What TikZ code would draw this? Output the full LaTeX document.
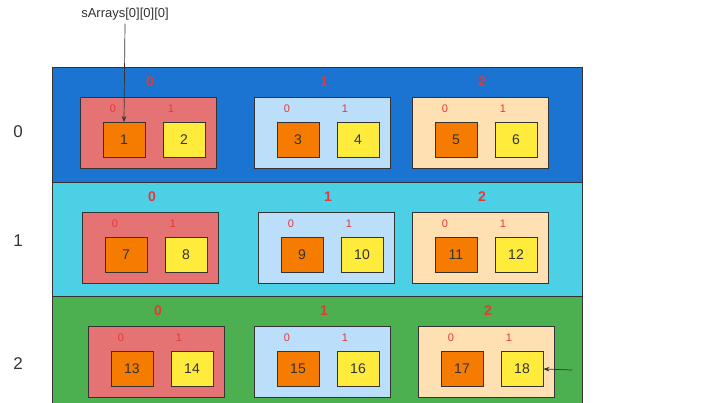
\documentclass[tikz,border=0pt]{standalone}
\usepackage{fontspec}
\setmainfont{Liberation Sans}
\usetikzlibrary{positioning,arrows.meta}
\definecolor{rowa}{HTML}{1B74D2}
\definecolor{rowb}{HTML}{4BD0E5}
\definecolor{rowc}{HTML}{4CAF50}
\definecolor{boxa}{HTML}{E57373}
\definecolor{boxb}{HTML}{BBDEFB}
\definecolor{boxc}{HTML}{FFE0B2}
\definecolor{cella}{HTML}{F57C00}
\definecolor{cellb}{HTML}{FFEB3B}
\definecolor{idx}{HTML}{E53935}
\begin{document}
\begin{tikzpicture}[x=1pt, y=-1pt, >={Stealth[length=6pt]},
	rowbox/.style={draw=black!80, line width=1pt},
	arrbox/.style={draw=black!80, line width=0.8pt},
	cellbox/.style={draw=black!80, line width=0.8pt, minimum width=42pt, minimum height=35pt, inner sep=0pt, text=black!80, font=\fontsize{14}{16}\selectfont},
	idxlab/.style={text=idx, font=\bfseries\fontsize{14}{16}\selectfont},
	smalllab/.style={text=idx, font=\fontsize{11}{13}\selectfont},
	rowlab/.style={font=\fontsize{17}{19}\selectfont, text=black!80}]
	\useasboundingbox (0,0) rectangle (725,403);
	% rows
	\fill[rowa] (52,68) rectangle (582,183);
	\fill[rowb] (52,183) rectangle (582,296);
	\fill[rowc] (52,296) rectangle (582,403);
	\draw[rowbox] (52,403) -- (52,68) -- (582,68) -- (582,403);
	\draw[rowbox] (52,183) -- (582,183);
	\draw[rowbox] (52,296) -- (582,296);
	\node[rowlab] (r0) at (18,132) {0};
	\node[rowlab] (r1) at (18,241) {1};
	\node[rowlab] (r2) at (18,364) {2};
	% arrays: row/col/x/y/color
	\foreach \r/\c/\x/\y/\col in {0/0/80/97/boxa, 0/1/254/97/boxb, 0/2/412/97/boxc,
		1/0/82/212/boxa, 1/1/258/212/boxb, 1/2/412/212/boxc,
		2/0/88/326/boxa, 2/1/254/326/boxb, 2/2/418/326/boxc}{
		\draw[arrbox, fill=\col] (\x,\y) rectangle ++(136,71);
		\node[idxlab] (i\r\c) at (\x+70,\y-15) {\c};
		\node[smalllab] (s\r\c a) at (\x+33,\y+12) {0};
		\node[smalllab] (s\r\c b) at (\x+91,\y+12) {1};
		\pgfmathtruncatemacro{\na}{6*\r+2*\c+1}
		\pgfmathtruncatemacro{\nb}{6*\r+2*\c+2}
		\node[cellbox, fill=cella] (c\r\c a) at (\x+44,\y+43) {\na};
		\node[cellbox, fill=cellb] (c\r\c b) at (\x+104,\y+43) {\nb};
	}
	% pointers
	\node[font=\fontsize{13}{15}\selectfont, text=black!80] (first) at (125,14) {sArrays[0][0][0]};
	\draw[->, black!80, line width=0.7pt] (first.south) -- (c00a.north);
	\coordinate (last) at (572,370);
	\draw[->, black!80, line width=0.7pt] (last) -- (c22b.east);
\end{tikzpicture}
\end{document}
